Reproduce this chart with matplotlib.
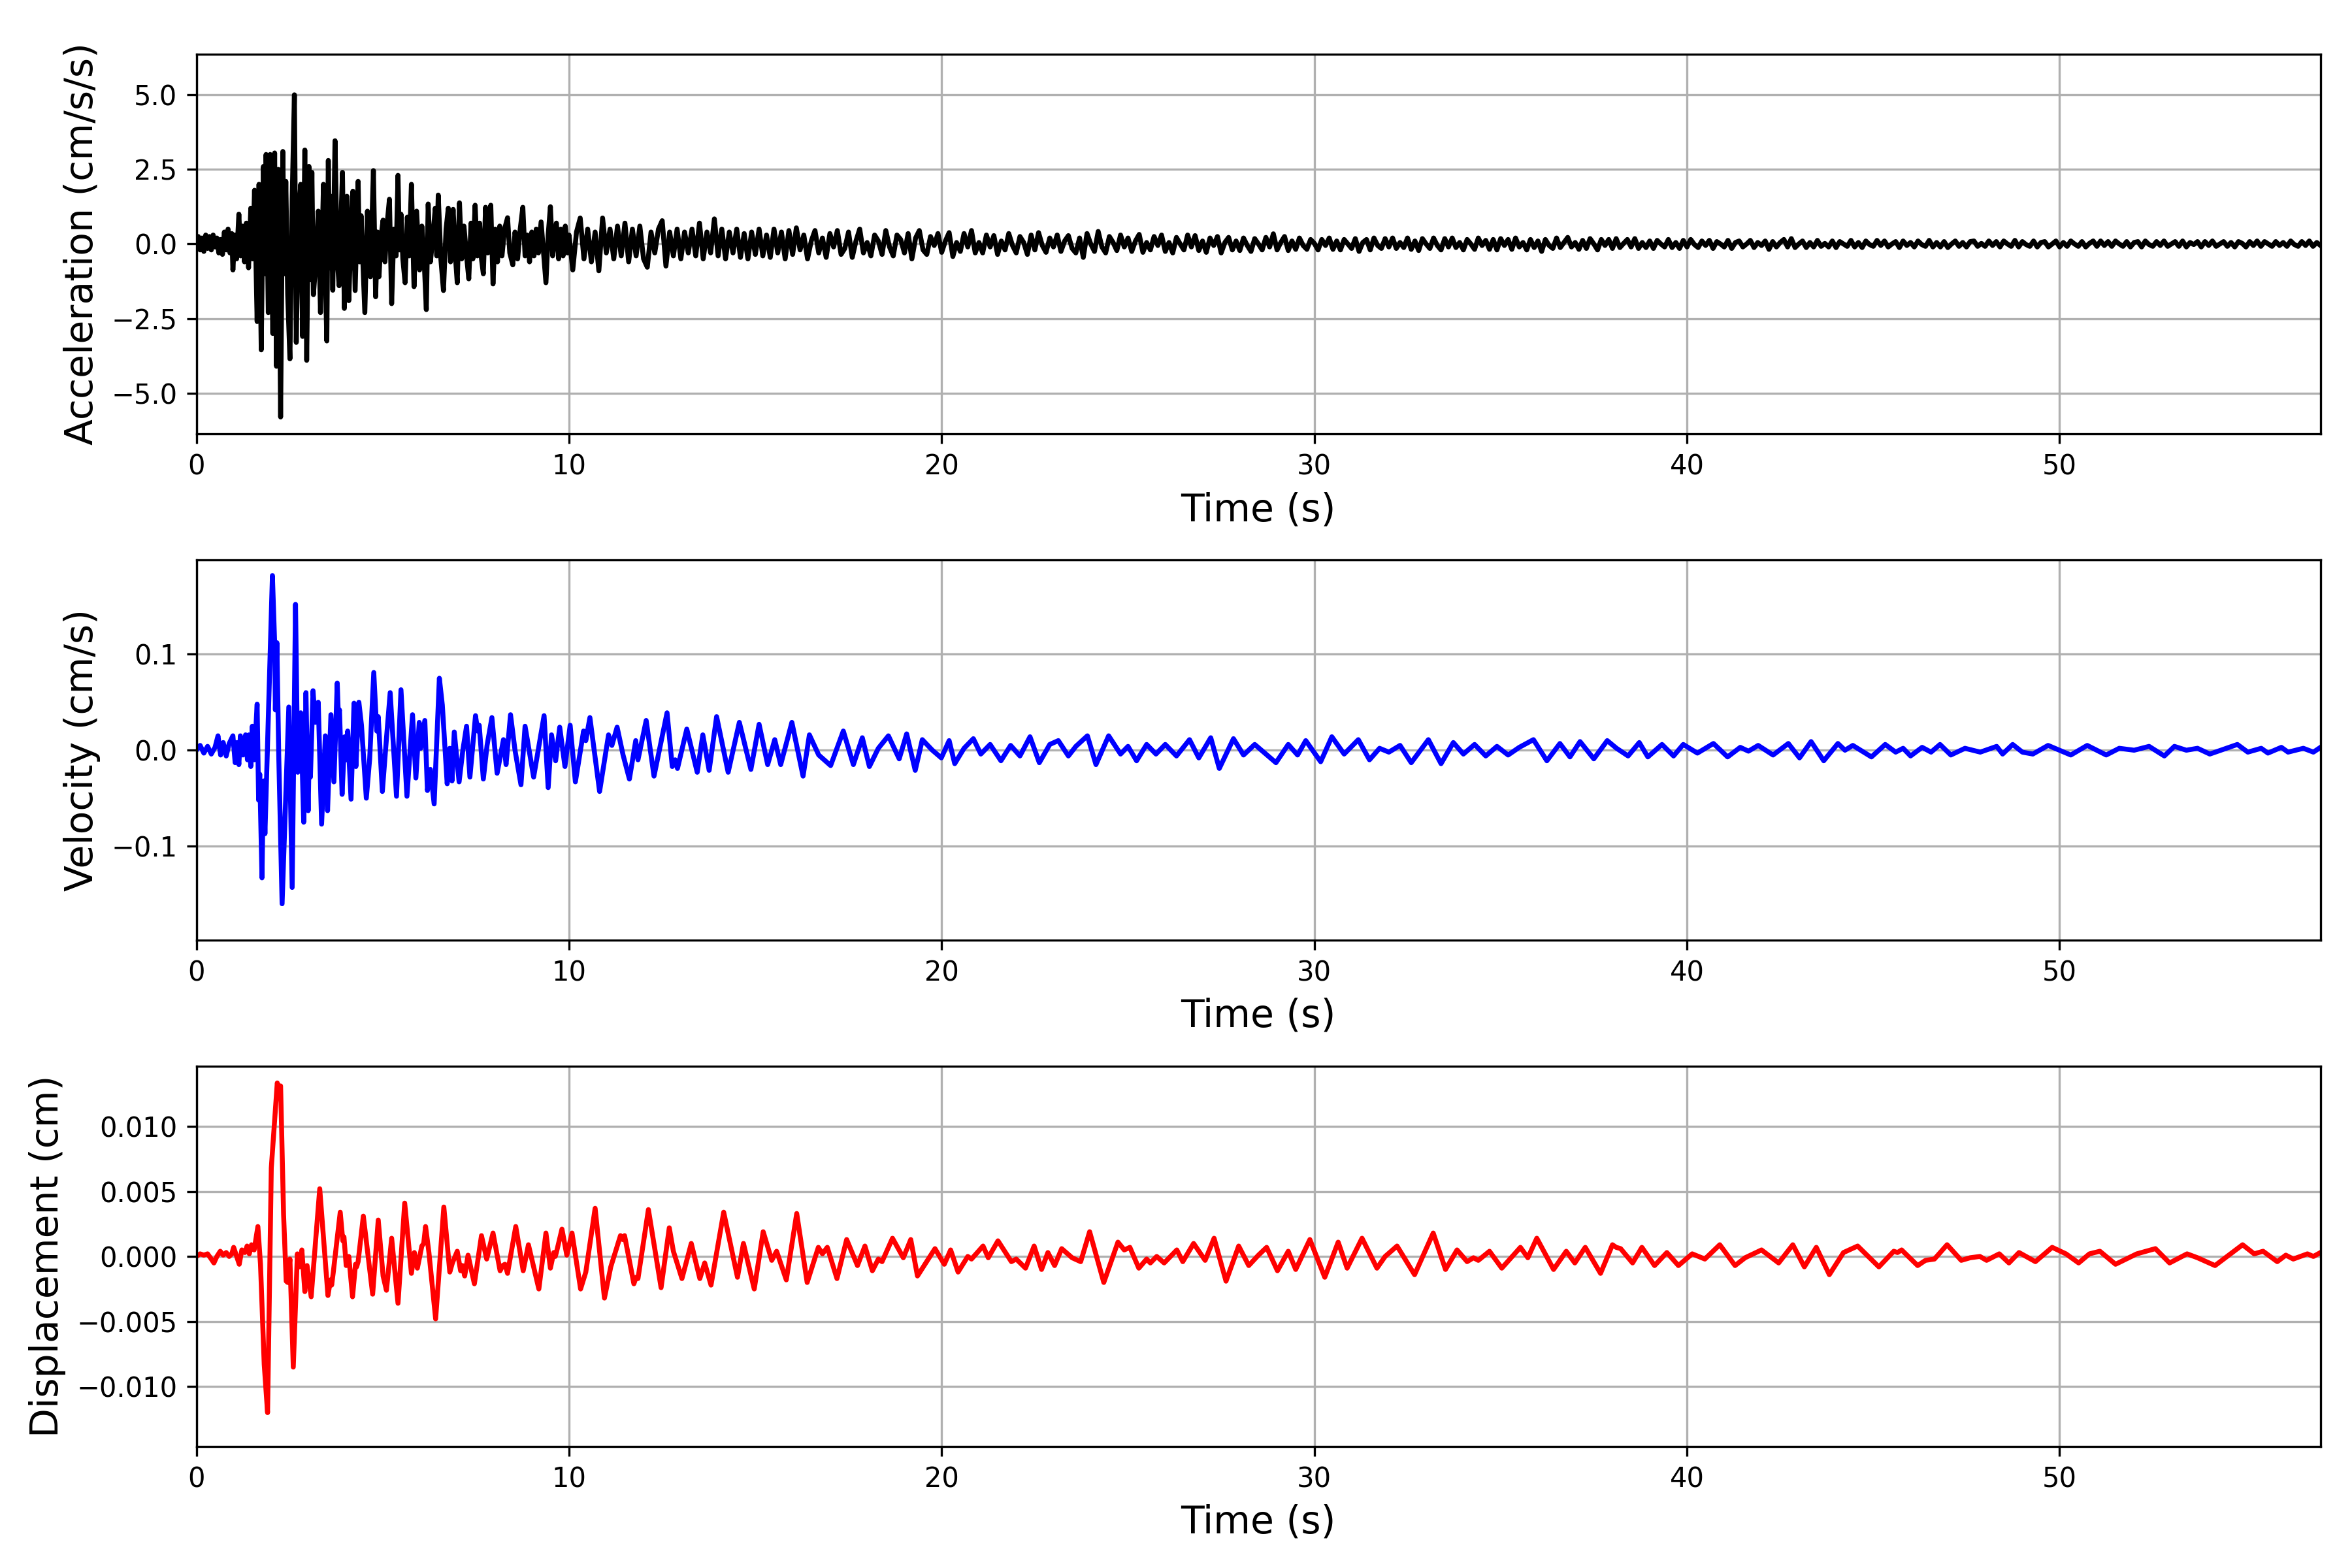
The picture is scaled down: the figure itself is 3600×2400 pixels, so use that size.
import numpy as np
import matplotlib
matplotlib.use("Agg")
import matplotlib.pyplot as plt
from matplotlib.ticker import MultipleLocator

acc_t_head = [0.0, 0.05, 0.1, 0.15, 0.2, 0.25, 0.3, 0.35, 0.4, 0.45, 0.5, 0.55, 0.6, 0.65, 0.7, 0.75,
              0.8, 0.85, 0.9, 0.95, 0.98, 1.03, 1.08, 1.14, 1.19, 1.24, 1.29, 1.34, 1.40, 1.46, 1.51,
              1.56, 1.63, 1.68, 1.74, 1.80, 1.84, 1.87, 1.93, 1.98, 2.05, 2.1, 2.15, 2.2, 2.26, 2.32,
              2.36, 2.4, 2.45, 2.51, 2.57, 2.63, 2.68, 2.74, 2.8, 2.85, 2.91, 2.96, 3.02, 3.06, 3.1,
              3.14, 3.2, 3.27, 3.33, 3.41, 3.46, 3.5, 3.54, 3.58, 3.61, 3.66, 3.72, 3.78, 3.83, 3.88,
              3.92, 3.97, 4.04, 4.09, 4.15, 4.2, 4.26, 4.34, 4.38, 4.42, 4.52, 4.59, 4.63, 4.67, 4.75,
              4.81, 4.86, 4.9, 4.96, 5.01, 5.06, 5.12, 5.18, 5.24, 5.3, 5.36, 5.41, 5.45, 5.49, 5.54,
              5.6, 5.66, 5.71, 5.77, 5.84, 5.91, 5.99, 6.05, 6.11, 6.17, 6.22, 6.28, 6.35, 6.41, 6.45,
              6.49, 6.56, 6.63, 6.7, 6.76, 6.82, 6.89, 6.95, 7.0, 7.06, 7.12, 7.18, 7.25, 7.31, 7.37,
              7.42, 7.48, 7.54, 7.6, 7.65, 7.7, 7.76, 7.82, 7.9, 7.96, 8.02, 8.08, 8.14, 8.2, 8.27,
              8.35, 8.41, 8.49, 8.55, 8.62, 8.69, 8.76, 8.82, 8.88, 8.94, 9.0, 9.06, 9.12, 9.18, 9.25,
              9.31, 9.38, 9.44, 9.5, 9.56, 9.61, 9.66, 9.72, 9.78, 9.84, 9.9, 9.96]
acc_head = [0.0, 0.25, -0.2, 0.2, -0.25, 0.3, -0.15, 0.25, -0.2, 0.3, -0.1, 0.2, -0.3, 0.15, -0.35, 0.4,
            -0.2, 0.5, -0.3, 0.35, -0.87, 0.3, -0.5, 1.0, -0.4, 0.6, -0.6, 0.7, -0.8, 1.2, -0.5,
            1.8, -2.6, 2.0, -3.55, 2.6, -1.0, 3.0, -2.3, 3.0, -3.0, 3.05, -4.1, 2.5, -5.8, 3.1,
            -1.0, 2.1, -1.7, -3.85, 1.5, 5.0, -3.3, 1.0, 2.0, -3.1, 3.15, -3.9, 2.6, -1.2, 2.4,
            -1.7, -0.7, 1.1, -2.3, 2.0, -1.0, -3.25, 2.8, -0.8, 1.6, -1.55, 3.46, -0.5, -1.4, 0.8,
            2.4, -2.16, 1.6, -1.9, 0.5, 1.77, -1.56, 2.1, -0.6, 0.95, -2.3, 1.1, -0.3, -1.1, 2.46,
            -1.77, 0.4, -1.1, 0.3, 0.8, -0.6, 0.7, 1.5, -2.0, 0.5, -0.4, 2.3, -0.2, 1.0, -0.5,
            -1.3, 0.9, -0.4, 2.0, -1.43, 1.1, -0.87, 0.6, -0.5, -2.2, 1.34, -0.6, 0.3, 1.2, -0.4,
            1.64, -0.5, -1.56, 0.5, 1.2, -0.6, 1.16, -0.4, -1.3, 1.38, -0.5, 0.6, -0.4, -1.17, 0.7,
            -0.5, 1.3, -0.4, 0.7, -0.5, -1.0, 1.23, -0.3, 1.3, -1.34, 0.5, -0.6, 0.6, -0.4, 0.5,
            0.88, -0.3, -0.7, 0.4, -0.5, 0.5, 1.23, -0.4, 0.3, -0.6, 0.4, -0.4, 0.5, -0.3, 0.74,
            -0.2, -1.3, 0.3, 1.25, -0.4, 0.2, 0.7, -0.5, 0.5, -0.4, 0.6, -0.3]

# acceleration from 10 s on, one value every 0.1 s
acc_tail_start = 10.0
acc_tail_dt = 0.1
acc_tail = [
    0.3, -0.87, 0.4, 0.87, -0.5, 0.5, -0.6, 0.4, -0.9, 0.87,
    -0.3, 0.5, -0.5, 0.6, -0.4, 0.7, -0.6, 0.5, -0.4, 0.6,
    -0.5, -0.78, 0.4, -0.3, 0.5, 0.78, -0.74, 0.4, -0.4, 0.5,
    -0.5, 0.4, -0.3, 0.5, -0.4, 0.7, -0.5, 0.4, -0.3, 0.84,
    -0.4, 0.5, -0.5, 0.4, -0.3, 0.5, -0.45, 0.35, -0.5, 0.4,
    -0.35, 0.5, -0.4, 0.3, -0.45, 0.5, -0.3, 0.4, -0.5, 0.45,
    -0.35, 0.54, -0.2, 0.3, -0.5, 0.1, 0.45, -0.3, 0.2, -0.45,
    0.35, -0.1, 0.45, -0.35, -0.15, 0.4, -0.45, 0.1, 0.5, -0.3,
    0.05, -0.4, 0.3, 0.1, -0.35, 0.45, -0.1, -0.4, 0.3, 0.15,
    -0.3, 0.35, -0.5, 0.2, 0.45, -0.2, -0.35, 0.25, -0.05, 0.35,
    -0.28, 0.1, 0.38, -0.42, 0.05, -0.25, 0.35, -0.1, 0.45, -0.3,
    0.05, -0.3, 0.3, -0.1, 0.28, -0.35, 0.1, -0.2, 0.35, -0.05,
    -0.3, 0.25, 0.05, -0.35, 0.3, -0.2, 0.38, -0.05, -0.28, 0.2,
    -0.1, 0.3, -0.25, 0.1, 0.28, -0.15, -0.3, 0.2, -0.45, 0.35,
    0.0, -0.25, 0.42, -0.1, -0.3, 0.25, 0.05, -0.22, 0.3, -0.1,
    0.2, -0.25, 0.1, 0.32, -0.28, 0.05, -0.2, 0.25, -0.05, 0.3,
    -0.25, 0.05, -0.3, 0.22, 0.0, -0.2, 0.3, -0.1, 0.28, -0.22,
    0.1, -0.28, 0.2, -0.05, 0.25, -0.3, 0.05, 0.22, -0.2, 0.1,
    -0.22, 0.2, -0.05, -0.25, 0.18, 0.0, -0.2, 0.22, -0.1, 0.34,
    -0.2, 0.05, 0.25, -0.22, 0.1, -0.18, 0.2, -0.05, -0.18, 0.15,
    0.02, -0.2, 0.15, -0.05, 0.2, -0.18, 0.1, -0.2, 0.15, 0.0,
    -0.15, 0.18, -0.25, 0.05, 0.15, -0.2, 0.2, -0.05, -0.15, 0.18,
    -0.1, 0.2, -0.15, 0.05, -0.12, 0.2, -0.18, 0.1, -0.22, 0.18,
    0.0, -0.15, 0.2, -0.05, -0.2, 0.18, -0.1, 0.2, -0.12, 0.05,
    -0.2, 0.15, 0.0, -0.18, 0.2, -0.05, 0.12, -0.18, 0.15, -0.2,
    0.18, -0.05, 0.15, -0.18, 0.2, -0.1, 0.05, -0.2, 0.15, -0.12,
    0.1, -0.25, 0.15, -0.05, -0.15, 0.2, -0.12, 0.05, 0.22, -0.1,
    0.05, -0.18, 0.12, -0.15, 0.18, 0.0, -0.2, 0.15, -0.05, 0.15,
    -0.15, 0.18, -0.12, 0.02, 0.15, -0.1, 0.18, -0.15, 0.05, -0.12,
    0.1, -0.15, 0.12, 0.0, -0.1, 0.15, -0.12, 0.05, -0.15, 0.12,
    -0.1, 0.15, -0.02, -0.12, 0.1, -0.05, 0.12, -0.15, 0.08, 0.0,
    -0.1, 0.12, -0.15, 0.05, 0.1, -0.1, 0.0, 0.12, -0.12, 0.05,
    -0.05, 0.1, -0.18, 0.08, -0.1, 0.05, 0.15, -0.1, 0.18, -0.12,
    0.0, 0.1, -0.12, 0.05, -0.1, 0.12, -0.08, 0.02, -0.1, 0.1,
    -0.12, 0.08, 0.0, -0.08, 0.12, -0.1, 0.05, -0.12, 0.1, -0.02,
    -0.08, 0.12, -0.05, 0.1, -0.1, 0.0, 0.08, -0.12, 0.1, -0.05,
    0.05, -0.1, 0.1, -0.02, -0.08, 0.12, -0.1, 0.05, -0.1, 0.08,
    -0.12, 0.0, 0.1, -0.08, 0.05, -0.1, 0.08, 0.1, -0.08, 0.02,
    -0.08, 0.1, -0.05, 0.08, -0.1, 0.1, 0.0, -0.08, 0.12, -0.1,
    0.08, -0.02, -0.08, 0.1, -0.1, 0.05, 0.08, -0.1, 0.0, 0.1,
    -0.1, 0.05, -0.08, 0.1, 0.0, -0.08, 0.08, -0.1, 0.02, 0.1,
    -0.08, 0.1, -0.05, 0.08, -0.08, 0.1, 0.0, -0.08, 0.08, -0.1,
    0.05, 0.08, -0.1, 0.1, -0.02, -0.08, 0.08, -0.05, 0.1, -0.08,
    0.0, 0.08, -0.08, 0.1, -0.1, 0.05, -0.02, 0.08, -0.1, 0.08,
    -0.05, 0.1, -0.08, 0.0, 0.08, -0.08, 0.05, -0.1, 0.08, 0.02,
    -0.1, 0.08, -0.05, 0.1, -0.08, 0.08, 0.0, -0.08, 0.08, -0.05,
    0.05, -0.08, 0.1, -0.02, -0.08, 0.08, -0.05, 0.1, -0.08, 0.05,
    -0.05]

# velocity turning points (time s, cm/s)
vel_t = [0.0, 0.1, 0.2, 0.3, 0.4, 0.5, 0.58, 0.65, 0.72, 0.8, 0.88, 0.98, 1.04, 1.09, 1.14, 1.18,
         1.25, 1.32, 1.37, 1.41, 1.46, 1.5, 1.55, 1.63, 1.67, 1.7, 1.76, 1.8, 1.84, 2.04, 2.1,
         2.12, 2.16, 2.21, 2.3, 2.38, 2.48, 2.57, 2.66, 2.72, 2.8, 2.88, 2.94, 3.0, 3.03, 3.06,
         3.13, 3.19, 3.27, 3.36, 3.46, 3.52, 3.61, 3.69, 3.78, 3.81, 3.84, 3.91, 3.98, 4.02, 4.06,
         4.15, 4.23, 4.28, 4.36, 4.43, 4.56, 4.65, 4.76, 4.84, 4.88, 4.99, 5.1, 5.2, 5.37, 5.49,
         5.65, 5.8, 5.89, 5.98, 6.02, 6.13, 6.2, 6.28, 6.38, 6.52, 6.6, 6.73, 6.8, 6.86, 6.92,
         7.05, 7.15, 7.25, 7.34, 7.49, 7.55, 7.59, 7.7, 7.8, 7.93, 8.07, 8.24, 8.31, 8.43, 8.55,
         8.71, 8.82, 9.05, 9.33, 9.44, 9.53, 9.64, 9.75, 9.89, 10.03, 10.17, 10.39, 10.45, 10.56,
         10.82, 11.06, 11.15, 11.29, 11.45, 11.62, 11.79, 11.85, 12.07, 12.28, 12.63, 12.77, 12.85,
         12.91, 13.16, 13.44, 13.59, 13.76, 13.96, 14.27, 14.57, 14.88, 15.1, 15.33, 15.52, 15.68,
         15.98, 16.28, 16.45, 16.7, 17.02, 17.36, 17.63, 17.87, 18.06, 18.3, 18.57, 18.86, 19.06,
         19.29, 19.48, 19.75, 19.99, 20.2, 20.35, 20.6, 20.85, 21.05, 21.3, 21.59, 21.85, 22.1,
         22.37, 22.62, 22.9, 23.13, 23.4, 23.6, 23.91, 24.14, 24.48, 24.8, 25.0, 25.23, 25.5,
         25.75, 26.0, 26.3, 26.65, 26.9, 27.22, 27.45, 27.83, 28.1, 28.4, 28.7, 28.97, 29.3,
         29.55, 29.77, 30.17, 30.47, 30.8, 31.18, 31.48, 31.75, 32.0, 32.3, 32.6, 33.06, 33.4,
         33.73, 34.0, 34.3, 34.6, 34.9, 35.2, 35.5, 35.88, 36.24, 36.59, 36.86, 37.13, 37.5,
         37.86, 38.11, 38.42, 38.72, 38.95, 39.33, 39.64, 39.9, 40.28, 40.71, 41.09, 41.43, 41.65,
         41.91, 42.31, 42.72, 43.02, 43.33, 43.67, 44.05, 44.24, 44.45, 44.95, 45.32, 45.6, 45.8,
         46.0, 46.31, 46.55, 46.79, 47.08, 47.46, 47.87, 48.31, 48.47, 48.74, 49.0, 49.28, 49.69,
         50.3, 50.74, 51.25, 51.6, 52.0, 52.4, 52.81, 53.08, 53.4, 53.7, 54.03, 54.4, 54.77,
         55.05, 55.41, 55.59, 55.95, 56.13, 56.54, 56.81, 57.0]
vel = [0.0, 0.005, -0.003, 0.004, -0.004, 0.003, 0.015, -0.005, 0.008, -0.006, 0.007, 0.015, -0.013, 0.008, -0.015, 0.015,
       -0.005, 0.016, -0.01, 0.016, -0.017, 0.025, -0.01, 0.048, -0.052, -0.025, -0.133, -0.032, -0.087, 0.182, 0.112,
       0.042, 0.112, -0.006, -0.16, -0.069, 0.045, -0.143, 0.152, -0.023, 0.039, -0.075, 0.06, -0.063, 0.005, -0.028,
       0.062, 0.029, 0.05, -0.077, 0.015, -0.063, 0.037, -0.033, 0.07, 0.035, 0.042, -0.046, 0.014, -0.01, 0.02,
       -0.051, 0.049, -0.017, 0.05, 0.026, -0.05, -0.009, 0.081, 0.02, 0.035, -0.043, 0.012, 0.06, -0.048, 0.063,
       -0.048, 0.037, -0.029, 0.029, 0.002, 0.031, -0.042, -0.02, -0.056, 0.075, 0.047, -0.035, 0.002, -0.032, 0.019,
       -0.033, 0.0, 0.025, -0.028, 0.036, 0.02, 0.026, -0.03, 0.005, 0.034, -0.024, 0.011, -0.015, 0.037, 0.0,
       -0.036, 0.025, -0.028, 0.036, -0.039, 0.016, -0.011, 0.024, -0.017, 0.026, -0.033, 0.02, 0.01, 0.034,
       -0.043, 0.016, 0.005, 0.024, -0.005, -0.03, 0.01, -0.01, 0.031, -0.027, 0.039, -0.017, -0.01,
       -0.019, 0.022, -0.023, 0.016, -0.021, 0.035, -0.023, 0.029, -0.02, 0.027, -0.015, 0.011, -0.015,
       0.029, -0.027, 0.016, -0.005, -0.016, 0.02, -0.015, 0.013, -0.017, 0.002, 0.015, -0.009, 0.017,
       -0.021, 0.011, 0.0, -0.008, 0.01, -0.014, 0.002, 0.012, -0.004, 0.006, -0.011, 0.005, -0.006,
       0.014, -0.013, 0.006, 0.01, -0.006, 0.004, 0.015, -0.015, 0.015, -0.004, 0.004, -0.011, 0.006,
       -0.004, 0.006, -0.006, 0.011, -0.008, 0.013, -0.019, 0.012, -0.005, 0.006, -0.004, -0.013, 0.006,
       -0.005, 0.01, -0.012, 0.014, -0.004, 0.011, -0.01, 0.002, -0.002, 0.005, -0.013, 0.011, -0.014,
       0.008, -0.004, 0.006, -0.006, 0.004, -0.005, 0.003, 0.011, -0.011, 0.007, -0.007, 0.009, -0.009,
       0.01, 0.002, -0.006, 0.008, -0.007, 0.006, -0.006, 0.006, -0.003, 0.007, -0.007, 0.003, -0.001,
       0.005, -0.005, 0.007, -0.008, 0.009, -0.011, 0.007, 0.0, 0.005, -0.007, 0.006, -0.002, 0.002,
       -0.006, 0.003, -0.002, 0.006, -0.005, 0.002, -0.002, 0.004, -0.004, 0.006, -0.002, -0.004, 0.005,
       -0.005, 0.005, -0.005, 0.002, 0.0, 0.004, -0.006, 0.004, 0.0, 0.002, -0.004, 0.001, 0.006,
       -0.002, 0.002, -0.003, 0.003, -0.002, 0.002, -0.002, 0.003]

# displacement turning points (time s, cm)
disp_t = [0.0, 0.1, 0.2, 0.3, 0.4, 0.47, 0.55, 0.64, 0.72, 0.8, 0.88, 0.95, 1.0, 1.07, 1.15, 1.22,
          1.3, 1.36, 1.42, 1.48, 1.55, 1.65, 1.72, 1.82, 1.91, 2.01, 2.17, 2.22, 2.26, 2.34, 2.41,
          2.45, 2.51, 2.6, 2.71, 2.77, 2.83, 2.91, 2.97, 3.08, 3.31, 3.53, 3.6, 3.63, 3.67, 3.86,
          3.93, 3.96, 4.02, 4.09, 4.19, 4.27, 4.3, 4.34, 4.48, 4.73, 4.88, 5.01, 5.1, 5.24, 5.41,
          5.59, 5.77, 5.85, 5.93, 6.05, 6.1, 6.15, 6.24, 6.42, 6.64, 6.8, 6.87, 7.0, 7.09, 7.14,
          7.2, 7.29, 7.46, 7.65, 7.79, 7.96, 8.15, 8.22, 8.28, 8.35, 8.57, 8.77, 8.91, 9.19, 9.38,
          9.5, 9.59, 9.63, 9.66, 9.81, 9.94, 10.08, 10.31, 10.45, 10.7, 10.95, 11.12, 11.38, 11.44,
          11.49, 11.74, 11.8, 11.85, 12.13, 12.47, 12.69, 12.8, 13.03, 13.28, 13.51, 13.64, 13.81,
          14.15, 14.52, 14.68, 14.97, 15.21, 15.44, 15.57, 15.83, 16.11, 16.39, 16.69, 16.8, 16.93,
          17.19, 17.45, 17.74, 17.94, 18.14, 18.3, 18.4, 18.68, 18.97, 19.17, 19.35, 19.82, 20.07,
          20.24, 20.44, 20.7, 20.8, 21.11, 21.25, 21.51, 21.87, 22.0, 22.25, 22.48, 22.68, 22.85,
          23.03, 23.22, 23.5, 23.73, 23.97, 24.35, 24.73, 24.9, 25.05, 25.29, 25.5, 25.6, 25.77,
          25.97, 26.31, 26.47, 26.76, 27.07, 27.31, 27.63, 27.97, 28.24, 28.5, 28.72, 29.01, 29.3,
          29.5, 29.88, 30.28, 30.64, 30.88, 31.28, 31.68, 31.9, 32.22, 32.69, 33.19, 33.52, 33.83,
          34.1, 34.27, 34.4, 34.7, 35.03, 35.53, 35.73, 35.97, 36.42, 36.76, 36.99, 37.27, 37.68,
          38.0, 38.1, 38.22, 38.54, 38.79, 39.13, 39.46, 39.77, 40.14, 40.48, 40.88, 41.29, 41.56,
          42.0, 42.46, 42.84, 43.15, 43.47, 43.82, 44.2, 44.58, 45.15, 45.55, 45.65, 45.76, 46.19,
          46.4, 46.64, 46.98, 47.36, 47.6, 47.86, 48.04, 48.38, 48.64, 48.91, 49.35, 49.8, 50.17,
          50.51, 50.8, 51.08, 51.5, 52.07, 52.57, 52.95, 53.42, 53.7, 54.17, 54.91, 55.22, 55.46,
          55.84, 56.07, 56.27, 56.65, 56.81, 57.0]
disp = [0.0, 0.0002, 0.0001, 0.0002, -0.0002, -0.0005, 0.0, 0.0004, 0.0001, 0.0003, 0.0, 0.0002, 0.0007, 0.0001, -0.0006, 0.0005,
        0.0003, 0.0008, 0.0002, 0.0009, 0.0005, 0.0023, -0.0006, -0.0083, -0.012, 0.0068, 0.01333, 0.0128, 0.0131, 0.0032, -0.0019,
        -0.002, -0.0002, -0.0085, 0.0002, -0.0008, 0.0005, -0.0027, -0.0007, -0.0031, 0.0052, -0.003, -0.0018, -0.0022, -0.0013, 0.0034,
        0.0012, 0.0015, -0.0007, 0.0, -0.0031, -0.0006, -0.0008, -0.0004, 0.0031, -0.0029, 0.0028, -0.0015, -0.0026, 0.0014, -0.0036,
        0.0041, -0.0013, 0.0003, -0.0009, 0.0008, 0.001, 0.0023, 0.0003, -0.0048, 0.0038, -0.0012, -0.0005, 0.0004, -0.0011, -0.0007,
        -0.0015, 0.0001, -0.0021, 0.0016, -0.0002, 0.0018, -0.0011, -0.0007, -0.0006, -0.0013, 0.0023, -0.0011, 0.0009, -0.0025, 0.0018,
        -0.0009, 0.0003, 0.0, 0.0003, 0.0021, 0.0001, 0.0018, -0.0025, -0.0012, 0.0037, -0.0032, -0.0008, 0.0016, 0.0013,
        0.0016, -0.0021, -0.0016, -0.0017, 0.0036, -0.0024, 0.0022, 0.0004, -0.0017, 0.001, -0.0017, -0.0005, -0.0022,
        0.0034, -0.0016, 0.001, -0.0025, 0.0019, -0.0003, 0.0004, -0.0018, 0.0033, -0.002, 0.0007, 0.0002, 0.0007,
        -0.0017, 0.0013, -0.0007, 0.0008, -0.0011, -0.0002, -0.0004, 0.0014, -0.0001, 0.0013, -0.0015, 0.0006, -0.0006,
        0.0005, -0.0012, 0.0, -0.0002, 0.0008, -0.0001, 0.0012, -0.0004, -0.0002, -0.0009, 0.0008, -0.001, 0.0003,
        -0.0007, 0.0006, -0.0001, -0.0004, 0.0019, -0.002, 0.0011, 0.0005, 0.0007, -0.0009, -0.0002, -0.0005, 0.0,
        -0.0005, 0.0005, -0.0004, 0.001, -0.0003, 0.0014, -0.0019, 0.0008, -0.0007, 0.0001, 0.0007, -0.0011, 0.0004,
        -0.001, 0.0013, -0.0016, 0.0011, -0.0009, 0.0014, -0.0009, 0.0, 0.0008, -0.0014, 0.0018, -0.001, 0.0005,
        -0.0004, -0.0001, -0.0003, 0.0004, -0.0009, 0.0007, -0.0001, 0.0014, -0.001, 0.0004, -0.0005, 0.0007, -0.0013,
        0.0009, 0.0007, 0.0006, -0.0005, 0.0007, -0.0007, 0.0003, -0.0007, 0.0002, -0.0002, 0.0009, -0.0007, -0.0001,
        0.0005, -0.0005, 0.0009, -0.0008, 0.0007, -0.0014, 0.0003, 0.0008, -0.0008, 0.0004, 0.0003, 0.0005, -0.0007,
        -0.0003, -0.0002, 0.0009, -0.0003, -0.0001, 0.0, -0.0003, 0.0002, -0.0005, 0.0003, -0.0004, 0.0007, 0.0002,
        -0.0005, 0.0002, 0.0004, -0.0006, 0.0002, 0.0006, -0.0005, 0.0002, -0.0001, -0.0007, 0.0009, 0.0002, 0.0004,
        -0.0004, 0.0001, -0.0002, 0.0002, 0.0, 0.0003]


def main():
    acc_t_tail = acc_tail_start + acc_tail_dt * np.arange(len(acc_tail))
    acc_t = np.concatenate([acc_t_head, acc_t_tail])
    acc = np.concatenate([acc_head, acc_tail])

    fig, axes = plt.subplots(3, 1, figsize=(12, 8), dpi=300)
    fig.subplots_adjust(left=0.0835, right=0.9866, top=0.9656, bottom=0.0775, hspace=0.332)

    panels = [
        (acc_t, acc, 'k', 'Acceleration (cm/s/s)', 6.37, 2.5),
        (vel_t, vel, 'b', 'Velocity (cm/s)', 0.198, 0.1),
        (disp_t, disp, 'r', 'Displacement (cm)', 0.0146, 0.005),
    ]
    for ax, (t, y, c, label, lim, step) in zip(axes, panels):
        ax.plot(t, y, color=c, lw=1.8)
        ax.set_xlim(0, 57)
        ax.set_ylim(-lim, lim)
        ax.yaxis.set_major_locator(MultipleLocator(step))
        ax.set_xlabel('Time (s)', fontsize=14)
        ax.set_ylabel(label, fontsize=14)
        ax.grid(True)

    fig.savefig('out.png', dpi=300)


if __name__ == "__main__":
    main()
